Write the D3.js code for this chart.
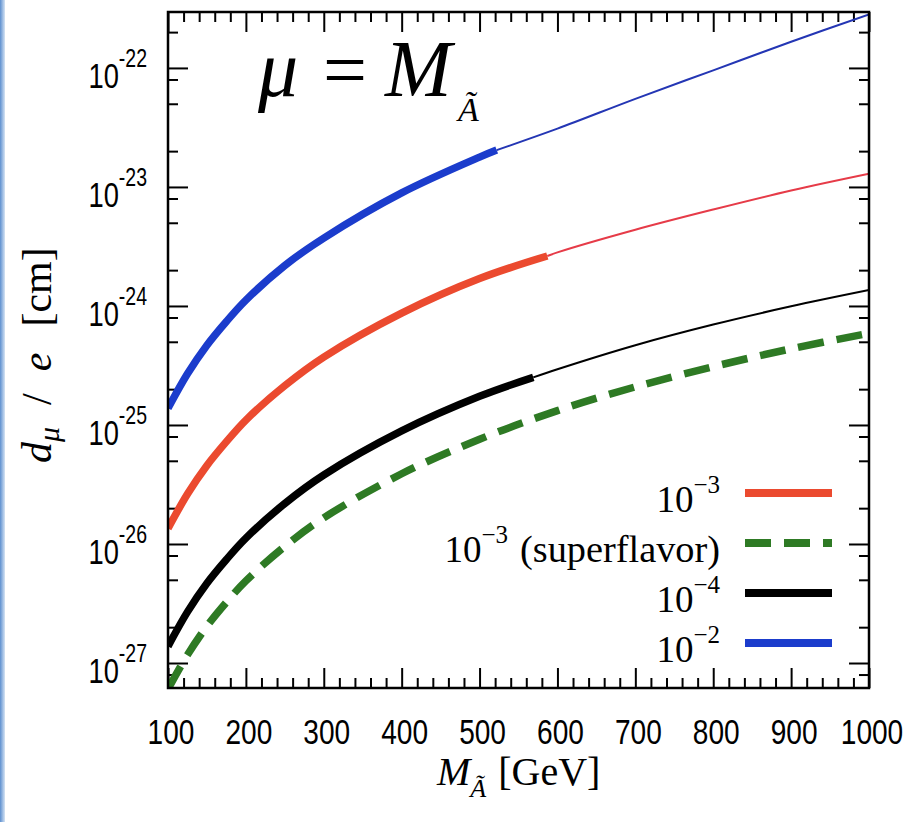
<!DOCTYPE html>
<html>
<head>
<meta charset="utf-8">
<script src="https://cdn.jsdelivr.net/npm/d3@7/dist/d3.min.js"></script>
<style>
  html, body { margin: 0; padding: 0; background: #fff; }
  svg { display: block; }
</style>
</head>
<body>
<svg id="chart" width="923" height="822"></svg>
<script>
// Muon EDM d_mu/e versus pseudoscalar mass, for mu = M_A~
const massGrid = [100, 125, 150, 175, 200, 250, 300, 400, 500, 600, 700, 800, 900, 1000];

// coupling 10^-2
const dBlue  = [1.38e-25, 2.69e-25, 4.68e-25, 7.41e-25, 1.12e-24, 2.19e-24, 3.72e-24, 8.91e-24, 1.78e-23, 3.09e-23, 5.50e-23, 9.55e-23, 1.66e-22, 2.82e-22];
// coupling 10^-3
const dRed   = [1.35e-26, 2.63e-26, 4.57e-26, 7.24e-26, 1.10e-25, 2.14e-25, 3.72e-25, 8.71e-25, 1.70e-24, 2.82e-24, 4.37e-24, 6.46e-24, 9.33e-24, 1.29e-23];
// coupling 10^-4
const dBlack = [1.38e-27, 2.69e-27, 4.68e-27, 7.41e-27, 1.12e-26, 2.19e-26, 3.80e-26, 8.91e-26, 1.74e-25, 2.94e-25, 4.68e-25, 6.98e-25, 9.93e-25, 1.36e-24];
// coupling 10^-3, superflavor
const dGreen = [6.03e-28, 1.17e-27, 2.04e-27, 3.24e-27, 4.90e-27, 9.55e-27, 1.66e-26, 3.89e-26, 7.59e-26, 1.32e-25, 2.09e-25, 3.09e-25, 4.37e-25, 5.89e-25];

// where the heavy (allowed) part of each solid curve ends: blue, red, black
const thickEndMass  = [522, 587, 569];
const thickEndValue = [2.04e-23, 2.63e-24, 2.51e-25];

const xTickLabels = [100, 200, 300, 400, 500, 600, 700, 800, 900, 1000];
const yTickExponents = [-27, -26, -25, -24, -23, -22];

const legendBase = ["10", "10", "10", "10"];
const legendSups = ["\u22123", "\u22123", "\u22124", "\u22122"];
const legendSuffix = ["", "(superflavor)", "", ""];

const colBlue = "#1b3ccc", colRed = "#eb4a2f", colBlack = "#000000", colGreen = "#2e7a24";
const colBlueThin = "#2436b4", colRedThin = "#e63b48";

const svg = d3.select("#chart");
const L = 168, R = 869, T = 12, B = 688;

const x = d3.scaleLinear().domain([100, 1000]).range([L, R]);
const y = d3.scaleLog().domain([Math.pow(10, -27.21), Math.pow(10, -21.53)]).range([B, T]);

// thin bluish edge along the left side of the page
const defs = svg.append("defs");
const grad = defs.append("linearGradient").attr("id", "edge").attr("x1", 0).attr("x2", 1);
grad.append("stop").attr("offset", "0%").attr("stop-color", "#5d8fcf");
grad.append("stop").attr("offset", "100%").attr("stop-color", "#d6e4f4");
svg.append("rect").attr("x", 0).attr("y", 0).attr("width", 5).attr("height", 822).attr("fill", "url(#edge)");

defs.append("clipPath").attr("id", "plotclip")
  .append("rect").attr("x", L).attr("y", T).attr("width", R - L).attr("height", B - T);

// ---- ticks (all pointing inward) ----
const xMinor = d3.range(100, 1001, 20).filter(v => v % 100 !== 0);
const yMinor = [];
for (let e = -28; e <= -22; e++) [2, 5, 8].forEach(m => yMinor.push(m * Math.pow(10, e)));
const yMinorIn = yMinor.filter(v => v >= y.domain()[0] && v <= y.domain()[1]);
const yMajor = yTickExponents.map(e => Math.pow(10, e));

function styleAxis(g) {
  g.select(".domain").remove();
  g.selectAll("line").attr("stroke", "#000").attr("stroke-width", 2);
}
const majLen = 20, minLen = 10;
svg.append("g").attr("transform", `translate(0,${B})`).call(d3.axisBottom(x).tickValues(xTickLabels).tickSize(-majLen).tickFormat("")).call(styleAxis);
svg.append("g").attr("transform", `translate(0,${B})`).call(d3.axisBottom(x).tickValues(xMinor).tickSize(-minLen).tickFormat("")).call(styleAxis);
svg.append("g").attr("transform", `translate(0,${T})`).call(d3.axisTop(x).tickValues(xTickLabels).tickSize(-majLen).tickFormat("")).call(styleAxis);
svg.append("g").attr("transform", `translate(0,${T})`).call(d3.axisTop(x).tickValues(xMinor).tickSize(-minLen).tickFormat("")).call(styleAxis);
svg.append("g").attr("transform", `translate(${L},0)`).call(d3.axisLeft(y).tickValues(yMajor).tickSize(-majLen).tickFormat("")).call(styleAxis);
svg.append("g").attr("transform", `translate(${L},0)`).call(d3.axisLeft(y).tickValues(yMinorIn).tickSize(-minLen).tickFormat("")).call(styleAxis);
svg.append("g").attr("transform", `translate(${R},0)`).call(d3.axisRight(y).tickValues(yMajor).tickSize(-majLen).tickFormat("")).call(styleAxis);
svg.append("g").attr("transform", `translate(${R},0)`).call(d3.axisRight(y).tickValues(yMinorIn).tickSize(-minLen).tickFormat("")).call(styleAxis);

// ---- tick labels (narrow sans) ----
const sx = 0.78;
xTickLabels.forEach(v => {
  svg.append("g").attr("transform", `translate(${x(v) + 3},744) scale(${sx},1)`)
    .append("text").attr("text-anchor", "middle")
    .attr("font-family", "Liberation Sans, Arial, sans-serif").attr("font-size", 36)
    .attr("fill", "#000").text(v);
});
yTickExponents.forEach(e => {
  const t = svg.append("g").attr("transform", `translate(147,${y(Math.pow(10, e)) + 20}) scale(${sx},1)`)
    .append("text").attr("text-anchor", "end")
    .attr("font-family", "Liberation Sans, Arial, sans-serif").attr("font-size", 35).attr("fill", "#000");
  t.append("tspan").text("10");
  t.append("tspan").attr("font-size", 25).attr("dy", -21).text(String(e));
});

// ---- curves ----
const line = d3.line().x(d => x(d[0])).y(d => y(d[1])).curve(d3.curveCatmullRom.alpha(0.5));
const plot = svg.append("g").attr("clip-path", "url(#plotclip)");

function pieces(vals, mEnd, vEnd) {
  const pts = massGrid.map((m, i) => [m, vals[i]]);
  const thick = pts.filter(p => p[0] < mEnd).concat([[mEnd, vEnd]]);
  const thin = [[mEnd, vEnd]].concat(pts.filter(p => p[0] > mEnd));
  return { thick, thin };
}

plot.append("path").datum(massGrid.map((m, i) => [m, dGreen[i]]))
  .attr("d", line).attr("fill", "none").attr("stroke", colGreen)
  .attr("stroke-width", 7.5).attr("stroke-dasharray", "26,13");

[[dBlack, 2, colBlack, colBlack], [dRed, 1, colRed, colRedThin], [dBlue, 0, colBlue, colBlueThin]].forEach(([vals, k, col, thinCol]) => {
  const p = pieces(vals, thickEndMass[k], thickEndValue[k]);
  plot.append("path").datum(p.thin).attr("d", line).attr("fill", "none")
    .attr("stroke", thinCol).attr("stroke-width", 2);
  plot.append("path").datum(p.thick).attr("d", line).attr("fill", "none")
    .attr("stroke", col).attr("stroke-width", 7.5);
});

// frame
svg.append("rect").attr("x", L).attr("y", T).attr("width", R - L).attr("height", B - T)
  .attr("fill", "none").attr("stroke", "#000").attr("stroke-width", 2.5);

// ---- legend ----
const tf = "Liberation Serif, Times New Roman, serif";
const legendColors = [colRed, colGreen, colBlack, colBlue];
const legendDash = [null, "26,13", null, null];
legendBase.forEach((lab, i) => {
  const ly = 493 + i * 50;
  let right = 720;
  if (legendSuffix[i]) {
    svg.append("text").attr("x", right).attr("y", ly + 19).attr("text-anchor", "end")
      .attr("font-family", tf).attr("font-size", 37).attr("fill", "#000")
      .attr("textLength", 200).attr("lengthAdjust", "spacingAndGlyphs").text(legendSuffix[i]);
    right -= 200 + 12;
  }
  const t = svg.append("text").attr("x", right).attr("y", ly + 19).attr("text-anchor", "end")
    .attr("font-family", tf).attr("font-size", 37).attr("fill", "#000");
  t.append("tspan").text(lab);
  t.append("tspan").attr("font-size", 25).attr("dy", -19).text(legendSups[i]);
  svg.append("line").attr("x1", 745).attr("x2", 832).attr("y1", ly).attr("y2", ly)
    .attr("stroke", legendColors[i]).attr("stroke-width", 8)
    .attr("stroke-dasharray", legendDash[i]);
});

// ---- in-plot title: mu = M_A~ ----
svg.append("text").attr("x", 258).attr("y", 96).attr("font-family", tf).attr("font-style", "italic")
  .attr("font-size", 80).text("\u03bc");
svg.append("text").attr("x", 323).attr("y", 96).attr("font-family", tf)
  .attr("font-size", 78).text("=");
svg.append("text").attr("x", 385).attr("y", 96).attr("font-family", tf).attr("font-style", "italic")
  .attr("font-size", 80).text("M");
svg.append("text").attr("x", 458).attr("y", 121).attr("font-family", tf).attr("font-style", "italic")
  .attr("font-size", 34).text("\u00c3");

// ---- axis titles ----
const xt = svg.append("text").attr("x", 437).attr("y", 785).attr("font-family", tf).attr("font-size", 40).attr("fill", "#000");
xt.append("tspan").attr("font-style", "italic").text("M");
xt.append("tspan").attr("font-style", "italic").attr("font-size", 26).attr("dy", 12).text("\u00c3");
xt.append("tspan").attr("dy", -12).attr("dx", 12).text("[GeV]");

const yt = svg.append("text").attr("transform", "translate(51,463) rotate(-90)")
  .attr("font-family", tf).attr("font-size", 42).attr("fill", "#000");
yt.append("tspan").attr("font-style", "italic").text("d");
yt.append("tspan").attr("font-style", "italic").attr("font-size", 30).attr("dy", 8).text("\u03bc");
yt.append("tspan").attr("dy", -8).attr("dx", 22).text("/");
yt.append("tspan").attr("font-style", "italic").attr("dx", 22).text("e");
yt.append("tspan").attr("dx", 26).text("[cm]");
</script>
</body>
</html>
